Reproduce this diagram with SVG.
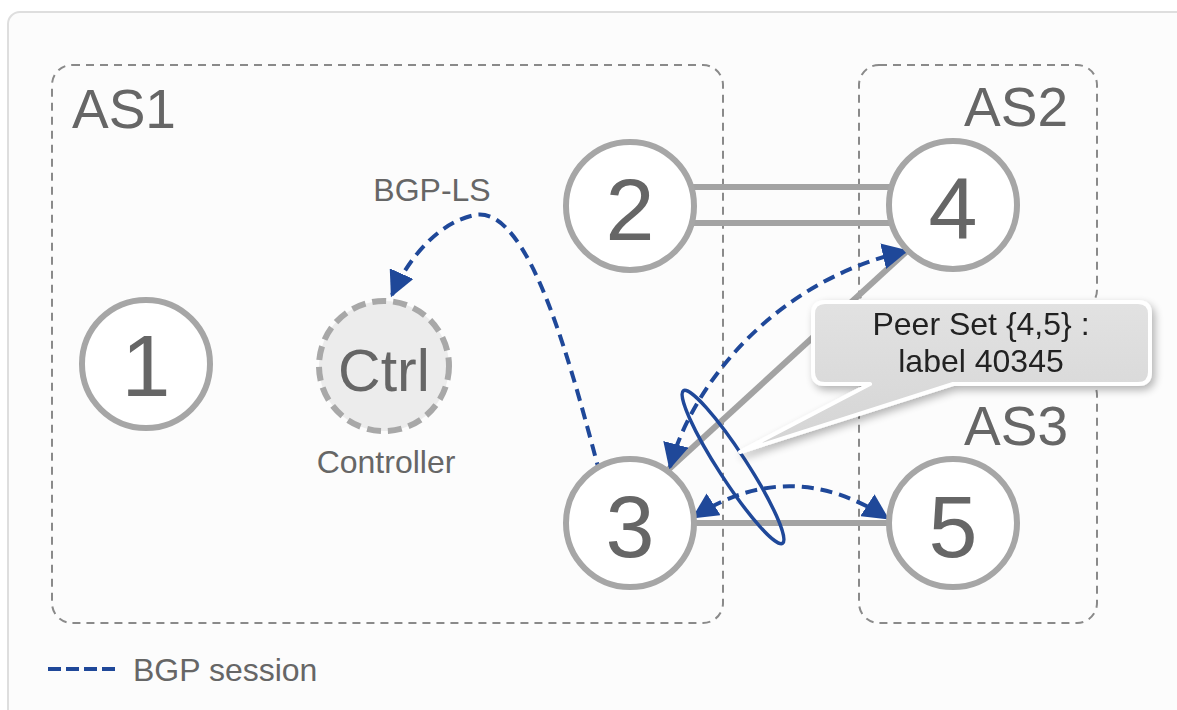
<svg xmlns="http://www.w3.org/2000/svg" width="1177" height="710" viewBox="0 0 1177 710">
<defs>
<style>
.as{fill:none;stroke:#8a8a8a;stroke-width:2;stroke-dasharray:8,6}
.node{fill:#ffffff;stroke:#a6a6a6;stroke-width:6}
.num{font-family:"Liberation Sans",Arial,sans-serif;font-size:88px;fill:#666;text-anchor:middle}
.lbl{font-family:"Liberation Sans",Arial,sans-serif;fill:#666}
.link{stroke:#a3a3a3;stroke-width:6;fill:none}
.bgp{stroke:#1f4899;stroke-width:4;fill:none;stroke-dasharray:12,7}
</style>
<marker id="ah" viewBox="0 0 10 10" refX="9" refY="5" markerWidth="6.5" markerHeight="6.5" markerUnits="strokeWidth" orient="auto-start-reverse">
<path d="M0,0 L10,5 L0,10 z" fill="#1f4899"/>
</marker>
<linearGradient id="cg" x1="0" y1="0" x2="0" y2="1">
<stop offset="0" stop-color="#e2e2e2"/>
<stop offset="1" stop-color="#d4d4d4"/>
</linearGradient>
<filter id="sh" x="-10%" y="-20%" width="125%" height="150%">
<feGaussianBlur in="SourceAlpha" stdDeviation="4"/>
<feOffset dx="3" dy="4"/>
<feComponentTransfer><feFuncA type="linear" slope="0.3"/></feComponentTransfer>
<feMerge><feMergeNode/><feMergeNode in="SourceGraphic"/></feMerge>
</filter>
</defs>
<rect x="0" y="0" width="1177" height="710" fill="#ffffff"/>
<rect x="8" y="12" width="1190" height="720" rx="12" fill="#fcfcfc" stroke="#dedede" stroke-width="2"/>

<g id="as1"><rect class="as" x="52" y="65" width="671" height="558" rx="20"/><text class="lbl" x="72" y="128" font-size="55">AS1</text></g>
<g id="as2"><rect class="as" x="859" y="65" width="238" height="245" rx="20"/><text class="lbl" x="1068" y="126" font-size="55" text-anchor="end">AS2</text></g>
<g id="as3"><rect class="as" x="859" y="375" width="238" height="248" rx="20"/><text class="lbl" x="1068" y="445" font-size="55" text-anchor="end">AS3</text></g>

<g id="connectors">
<line class="link" x1="690" y1="187" x2="890" y2="187"/>
<line class="link" x1="690" y1="223" x2="890" y2="223"/>
<line class="link" x1="668" y1="470" x2="906" y2="252"/>
<line class="link" x1="690" y1="523" x2="890" y2="523"/>
<path class="bgp" d="M600,474 C572,370 530,205 475,215 C440,222 410,255 392,295" marker-end="url(#ah)"/>
<path class="bgp" d="M670,467 C690,390 770,282 906,251" marker-start="url(#ah)" marker-end="url(#ah)"/>
<path class="bgp" d="M694,517 Q790,455 887,518" marker-start="url(#ah)" marker-end="url(#ah)"/>
<ellipse cx="733" cy="467" rx="91" ry="14" transform="rotate(57 733 467)" fill="none" stroke="#1f4899" stroke-width="3.5"/>
</g>

<g id="n1"><circle class="node" cx="146" cy="364" r="64"/><text class="num" x="146" y="396">1</text></g>
<g id="n2"><circle class="node" cx="630" cy="206" r="64"/><text class="num" x="630" y="240">2</text></g>
<g id="n4"><circle class="node" cx="953" cy="205" r="64"/><text class="num" x="953" y="239">4</text></g>
<g id="n3"><circle class="node" cx="630" cy="523" r="64"/><text class="num" x="630" y="557">3</text></g>
<g id="n5"><circle class="node" cx="953" cy="523" r="64"/><text class="num" x="953" y="557">5</text></g>
<g id="ctrl"><circle cx="384" cy="366" r="65" fill="#ececec" stroke="#a8a8a8" stroke-width="6" stroke-dasharray="14,7"/><text class="lbl" x="384" y="391" font-size="59" text-anchor="middle">Ctrl</text><text class="lbl" x="386" y="473" font-size="32" text-anchor="middle">Controller</text></g>
<g id="bgpls"><text class="lbl" x="432" y="201" font-size="32" text-anchor="middle">BGP-LS</text></g>

<g id="callout" filter="url(#sh)">
<path d="M825,302 H1138 Q1150,302 1150,314 V372 Q1150,384 1138,384 H953 L740,452 L870,384 H825 Q813,384 813,372 V314 Q813,302 825,302 Z" fill="url(#cg)" stroke="#ffffff" stroke-width="4" stroke-linejoin="round"/>
<text x="981" y="335" font-family="Liberation Sans,Arial,sans-serif" font-size="32" fill="#222" text-anchor="middle">Peer Set {4,5} :</text>
<text x="981" y="372" font-family="Liberation Sans,Arial,sans-serif" font-size="32" fill="#222" text-anchor="middle">label 40345</text>
</g>

<g id="legend">
<line x1="48" y1="669" x2="117" y2="669" stroke="#1f4899" stroke-width="4" stroke-dasharray="13,5"/>
<text class="lbl" x="133" y="681" font-size="32">BGP session</text>
</g>
</svg>
